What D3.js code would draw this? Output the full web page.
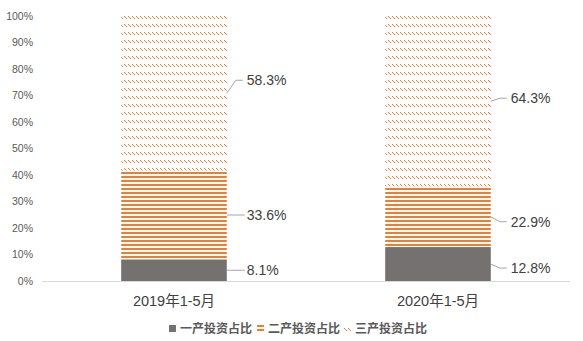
<!DOCTYPE html>
<html><head><meta charset="utf-8">
<script src="https://cdn.jsdelivr.net/npm/d3@7"></script>
<style>body{margin:0;background:#fff}svg{display:block}</style>
</head><body><div id="c"></div>
<script>
const categories = ["2019年1-5月", "2020年1-5月"];
const seriesNames = ["一产投资占比", "二产投资占比", "三产投资占比"];
const primary = [8.1, 12.8];
const secondary = [33.6, 22.9];
const tertiary = [58.3, 64.3];
const yTicks = [0, 10, 20, 30, 40, 50, 60, 70, 80, 90, 100];

const W = 583, H = 341;
const svg = d3.select("#c").append("svg").attr("width", W).attr("height", H);
const defs = svg.append("defs");
const orange = "#ED7D31", grey = "#767171";

const pH = defs.append("pattern").attr("id", "hstripe").attr("patternUnits", "userSpaceOnUse")
  .attr("width", 4).attr("height", 4);
pH.append("rect").attr("x", 0).attr("y", 0).attr("width", 4).attr("height", 2).attr("fill", orange);

const pD = defs.append("pattern").attr("id", "dash").attr("patternUnits", "userSpaceOnUse")
  .attr("width", 4).attr("height", 8);
[[0,0],[1,1],[2,2]].forEach(([x,y]) => pD.append("rect").attr("x", x).attr("y", y).attr("width", 1).attr("height", 1).attr("fill", orange));

const y = d3.scaleLinear().domain([0, 100]).range([281, 16]);
const x = d3.scalePoint().domain(categories).range([42, 570]).padding(0.5);
const bw = x.step() * 0.4;

const yAxis = d3.axisLeft(y).tickValues(yTicks).tickFormat(d => d + "%").tickSize(0).tickPadding(0);
const gy = svg.append("g").attr("transform", "translate(33,0)").call(yAxis);
gy.select(".domain").remove();
gy.selectAll("text").attr("font-family", "Liberation Sans, Arial, sans-serif").attr("font-size", 10.5).attr("fill", "#595959");

const fills = [grey, "url(#hstripe)", "url(#dash)"];
const data = [primary, secondary, tertiary];
const stackRows = categories.map((c, i) => ({cat: c, s0: primary[i], s1: secondary[i], s2: tertiary[i]}));
const stacked = d3.stack().keys(["s0", "s1", "s2"])(stackRows);

stacked.forEach((layer, li) => {
  svg.append("g").selectAll("rect").data(layer).join("rect")
    .attr("x", d => x(d.data.cat) - bw / 2)
    .attr("width", bw)
    .attr("y", d => y(d[1]))
    .attr("height", d => y(d[0]) - y(d[1]))
    .attr("fill", fills[li]);
});

svg.append("line").attr("x1", 42).attr("x2", 570).attr("y1", y(0) + 0.5).attr("y2", y(0) + 0.5)
  .attr("stroke", "#d9d9d9").attr("stroke-width", 1);

svg.append("g").selectAll("text").data(categories).join("text")
  .attr("x", d => x(d)).attr("y", 306).attr("text-anchor", "middle")
  .attr("font-family", "Liberation Sans, Noto Sans CJK SC, sans-serif").attr("font-size", 14.5)
  .attr("fill", "#404040").text(d => d);

const labelDy = [[0, 4], [0, 5], [-13, -3]];
stacked.forEach((layer, li) => {
  layer.forEach((d, ci) => {
    const x0 = x(d.data.cat) + bw / 2;
    const ym = y((d[0] + d[1]) / 2);
    const dy = labelDy[li][ci];
    const ly = ym + dy;
    const g = svg.append("g");
    let pts;
    if (dy === 0) pts = [[x0, ym], [x0 + 18, ym]];
    else pts = [[x0, ym], [x0 + 9, ly], [x0 + 16, ly]];
    g.append("path").attr("d", d3.line()(pts)).attr("fill", "none").attr("stroke", "#a6a6a6").attr("stroke-width", 1);
    g.append("text").attr("x", x0 + 20).attr("y", ly + 5)
      .attr("font-family", "Liberation Sans, Arial, sans-serif").attr("font-size", 14)
      .attr("fill", "#404040").text(data[li][ci].toFixed(1) + "%");
  });
});

const lg = svg.append("g");
const legX = [180, 268, 355];
const lf = "Noto Sans CJK SC, sans-serif";
seriesNames.forEach((n, i) => {
  lg.append("text").attr("x", legX[i]).attr("y", 333).attr("font-family", lf).attr("font-weight", "bold")
    .attr("font-size", 12).attr("fill", "#595959").text(n);
});
lg.append("rect").attr("x", 169).attr("y", 325).attr("width", 7).attr("height", 7).attr("fill", grey);
lg.append("rect").attr("x", 257).attr("y", 325).attr("width", 7).attr("height", 2).attr("fill", orange);
lg.append("rect").attr("x", 257).attr("y", 329).attr("width", 7).attr("height", 2).attr("fill", orange);
lg.append("rect").attr("x", 344).attr("y", 325).attr("width", 7).attr("height", 7).attr("fill", "url(#dash)");
</script></body></html>
